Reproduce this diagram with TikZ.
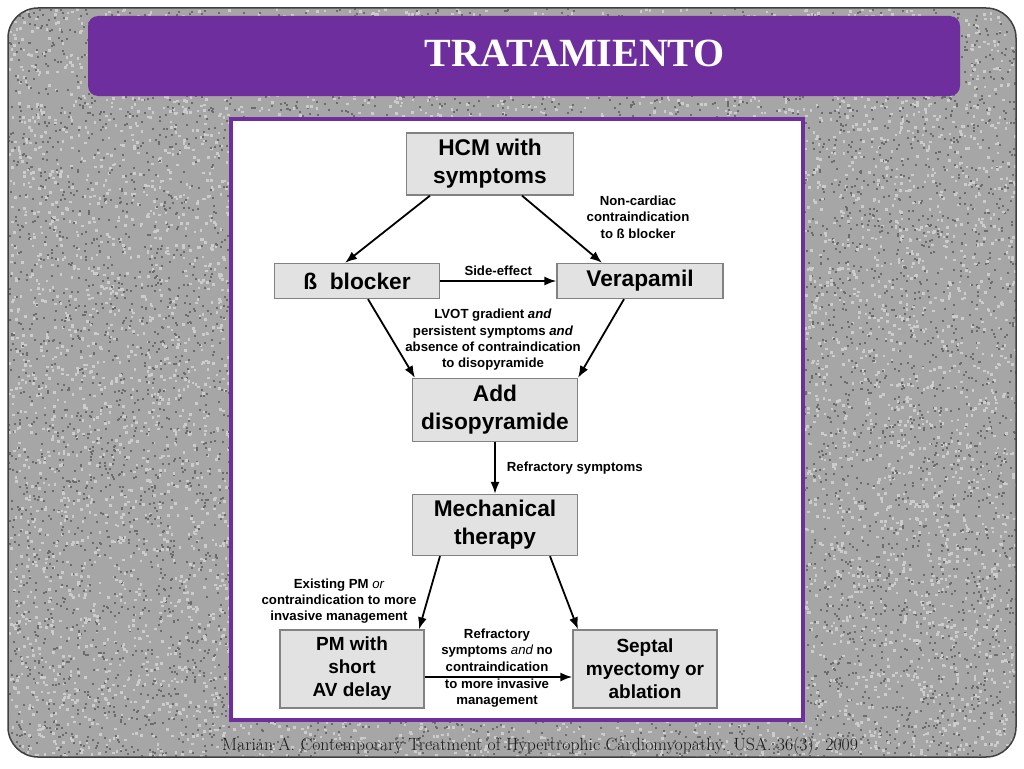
\documentclass[tikz,border=0pt]{standalone}
\usepackage{fontspec}
\setsansfont{Liberation Sans}
\newfontfamily\titlefont{Liberation Serif}
\usepackage{xcolor}
\usepackage{tikz}
\usetikzlibrary{arrows.meta,positioning}
\definecolor{granite}{RGB}{166,166,166}
\definecolor{grlight}{RGB}{204,204,204}
\definecolor{grdark}{RGB}{108,108,108}
\definecolor{banner}{RGB}{110,46,158}
\definecolor{boxgray}{RGB}{226,226,226}
\definecolor{boxline}{RGB}{130,130,130}

\begin{document}
\begin{tikzpicture}[
x=1pt, y=-1pt,
box/.style={draw=boxline, fill=boxgray, line width=1.3pt, minimum width=165pt, minimum height=#1, inner sep=0pt, align=center, font=\sffamily\bfseries\fontsize{22.7}{28}\selectfont},
tallbox/.style={box=78pt, minimum width=144pt, font=\sffamily\bfseries\fontsize{19}{23}\selectfont},
lbl/.style={inner sep=1pt, align=center, font=\sffamily\bfseries\fontsize{13.2}{16.3}\selectfont},
arr/.style={-{Latex[length=12pt,width=9pt]}, line width=1.8pt}
]
\useasboundingbox (0,0) rectangle (1024,768);
\fill[white] (0,0) rectangle (1024,768);
\fill[granite, rounded corners=30pt] (8,8) rectangle (1016,757);
\pgfmathsetseed{42}
\begin{scope}
\clip[rounded corners=30pt] (8,8) rectangle (1016,757);
\foreach \xa/\w/\ya/\h/\n in {8/222/8/749/2000, 804/212/8/749/1900, 230/574/8/111/650, 230/574/720/37/220} {
  \foreach \k in {1,...,\n} {
    \fill[grlight] (\xa+\w*rnd, \ya+\h*rnd) rectangle ++(2.6,2.6);
    \fill[grdark] (\xa+\w*rnd, \ya+\h*rnd) rectangle ++(2,2);
  }
}
\end{scope}
\draw[rounded corners=30pt, line width=1.5pt, draw=black!75] (8,8) rectangle (1016,757);
\fill[banner, rounded corners=10pt] (88,16) rectangle (960,96);
\node[text=white, font=\titlefont\bfseries\fontsize{40}{40}\selectfont] (title) at (575,53) {TRATAMIENTO};
\draw[banner, line width=4pt, fill=white] (231,119) rectangle (803,720);

\node[box=62pt, minimum width=167pt] (hcm) at (490,164) {HCM with\\symptoms};
\node[box=35pt] (beta) at (357,281) {ß\ \ blocker};
\node[box=35pt, minimum width=166pt] (vera) at (640,281) {Verapamil};
\node[box=63pt] (disop) at (495,410) {Add\\disopyramide};
\node[box=61pt] (mech) at (495,525) {Mechanical\\therapy};
\node[tallbox] (pm) at (352,669) {PM with\\short\\AV delay};
\node[tallbox] (septal) at (645,669) {Septal\\myectomy or\\ablation};

\node[lbl] (noncard) at (638,217) {Non-cardiac\\contraindication\\to ß blocker};
\node[lbl] (lvot) at (493,340) {LVOT gradient \textit{and}\\persistent symptoms \textit{and}\\absence of contraindication\\to disopyramide};
\node[lbl] (existing) at (339,601) {Existing PM {\mdseries\itshape or}\\contraindication to more\\invasive management};
\node[lbl] (refrtop) at (497,650) {Refractory\\symptoms {\mdseries\itshape and} no\\contraindication};
\node[lbl] (refrbot) at (497,693) {to more invasive\\management};

\draw[arr] ([xshift=-60pt]hcm.south) -- ([xshift=-12pt]beta.north);
\draw[arr] ([xshift=32pt]hcm.south) -- ([xshift=-38pt]vera.north);
\draw[arr] (beta) -- node[lbl, above=3pt] (sidefx) {Side-effect} (vera);
\draw[arr] ([xshift=11pt]beta.south) -- ([xshift=-80pt]disop.north);
\draw[arr] ([xshift=-16pt]vera.south) -- ([xshift=83pt]disop.north);
\draw[arr] (disop) -- node[lbl, right=10pt] (refract) {Refractory symptoms} (mech);
\draw[arr] ([xshift=-55pt]mech.south) -- ([xshift=67pt]pm.north);
\draw[arr] ([xshift=55pt]mech.south) -- ([xshift=-67pt]septal.north);
\draw[arr] ([yshift=-8pt]pm.east) -- ([yshift=-8pt]septal.west);

\node[font=\rmfamily\fontsize{17.7}{19}\selectfont, text=black!90] (cite) at (540,746) {Marian A. Contemporary Treatment of Hypertrophic Cardiomyopathy. USA. 36(3). 2009};
\end{tikzpicture}
\end{document}
